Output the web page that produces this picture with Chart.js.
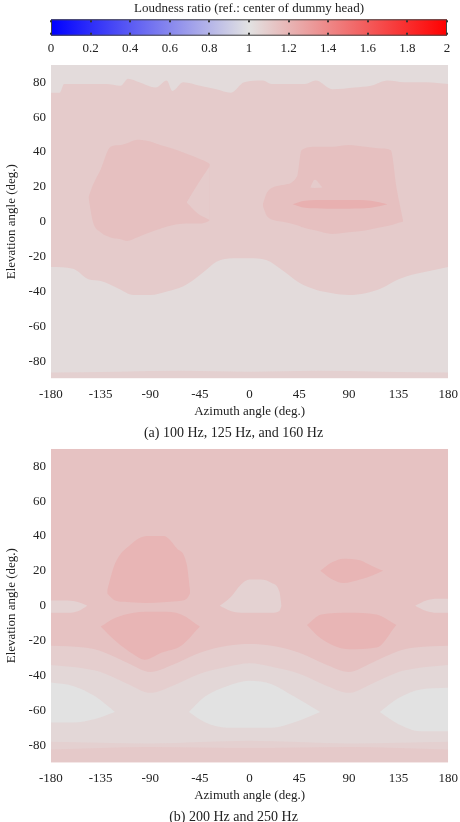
<!DOCTYPE html>
<html>
<head>
<meta charset="utf-8">
<script src="https://cdn.jsdelivr.net/npm/chart.js@4.4.0/dist/chart.umd.min.js"></script>
<style>
  html, body { margin: 0; padding: 0; background: #fff; }
  body { width: 460px; height: 822px; position: relative; overflow: hidden; }
  canvas { position: absolute; left: 0; }
  #barra { top: 0; }
  #graficoA { top: 52px; }
  #graficoB { top: 436px; }
</style>
</head>
<body>
<canvas id="barra" width="460" height="62"></canvas>
<canvas id="graficoA" width="467" height="388"></canvas>
<canvas id="graficoB" width="467" height="388"></canvas>
<script>
const colorbarTicks = [0, 0.2, 0.4, 0.6, 0.8, 1, 1.2, 1.4, 1.6, 1.8, 2];
const colormapStops = [0, 1, 2];
const colormapRgb = [[0, 0, 255], [226, 226, 226], [255, 0, 0]];
const azimuthTicks = [-180, -135, -90, -45, 0, 45, 90, 135, 180];
const elevationTicks = [-80, -60, -40, -20, 0, 20, 40, 60, 80];
const fullAz = [-180, 180];
const fullTop = [90, 90];

// (a) 100 Hz, 125 Hz, 160 Hz - contour levels (loudness ratio) and their boundaries
const aBackground = 1.03;
const aBandValue = 1.10;
const aBandTopAz = [-180, -172, -168, -150, -130, -117, -110, -100, -85, -75, -70, -60, -45, -30, -17, -5, 12, 20, 35, 50, 60, 75, 95, 110, 125, 140, 160, 180];
const aBandTopEl = [74, 74, 79, 79, 79, 78, 82, 80, 77, 81, 75, 80, 78, 76, 74, 80, 81, 79, 79, 79, 81, 76, 77, 78, 81, 80, 80, 79];
const aBandLowAz = [-180, -160, -146, -135, -120, -105, -90, -75, -60, -50, -40, -30, -15, 0, 15, 30, 45, 60, 75, 90, 105, 120, 135, 150, 165, 180];
const aBandLowEl = [-26, -27, -33, -34, -38, -42, -42, -40, -37, -33, -28, -23, -21, -21, -22, -28, -35, -39, -41, -42, -41, -38, -33, -30, -28, -26];
const aFloorValue = 1.08;
const aFloorAz = [-180, -120, -60, 0, 60, 120, 180];
const aFloorEl = [-86.5, -86, -85.5, -86, -85.5, -86, -86.5];
const aBlobValue = 1.15;
const aLeftAz = [-146, -142, -135, -126, -117, -111, -102, -90, -81, -70, -57, -45, -38, -36];
const aLeftTop = [14, 21, 30, 43, 44, 45, 47, 46, 44, 42, 39, 36, 34, 33];
const aLeftLow = [14, 0, -6, -9, -10, -11, -9, -6, -4, -2, -1, -1, 0, 1];
const aNotchAz = [-57, -47, -36];
const aNotchTop = [11, 21.5, 32];
const aNotchLow = [11, 4.7, 1];
const aRightAz = [12, 16, 30, 43, 47, 60, 75, 90, 105, 120, 128, 133, 139];
const aRightTop = [10, 17, 21, 26, 41, 43, 43, 44, 43, 42, 41, 20, 1];
const aRightLow = [9, 3, 0, -2, -3, -5, -7, -6, -5, -3, -2, -1, 0];
const aSpotAz = [55, 59, 66];
const aSpotTop = [19.6, 24, 19.6];
const aSpotLow = [19.6, 19.4, 19.6];
const aLineValue = 1.22;
const aLineAz = [39, 50, 70, 90, 110, 125];
const aLineTop = [10, 12, 12.5, 12.5, 12, 10];
const aLineLow = [10, 8, 7.5, 7.5, 8, 10];

// (b) 200 Hz, 250 Hz
const bBackground = 1.14;
const bBandAz = [-180, -150, -135, -110, -90, -70, -45, -20, 0, 20, 45, 70, 90, 110, 135, 150, 180];
const bBand1Value = 1.09;
const bBand1El = [-23, -24, -26, -33, -38, -34, -27, -23, -22, -23, -27, -34, -38, -33, -26, -24, -23];
const bBand2Value = 1.05;
const bBand2El = [-34, -36, -38, -45, -50, -46, -39, -35, -33, -35, -39, -46, -50, -45, -38, -36, -34];
const bLowAz = [-180, -90, 0, 90, 180];
const bBand3Value = 1.08;
const bBand3El = [-78, -79, -77.5, -79, -78];
const bFloorValue = 1.11;
const bFloorEl = [-82.5, -81, -81.5, -81, -82.5];
const bPaleValue = 1.0;
const bPaleLeftAz = [-180, -160, -140, -122];
const bPaleLeftTop = [-44, -46, -52, -61];
const bPaleLeftLow = [-67, -67, -65, -61];
const bPaleMidAz = [-55, -40, -20, 0, 20, 40, 64];
const bPaleMidTop = [-61, -52, -46, -43, -45, -52, -61];
const bPaleMidLow = [-61, -67, -70, -70, -70, -67, -61];
const bPaleRightAz = [118, 135, 155, 180];
const bPaleRightTop = [-61, -53, -48, -47];
const bPaleRightLow = [-61, -68, -72, -72];
const bLightValue = 1.07;
const bLightLeftAz = [-180, -165, -155, -147];
const bLightLeftTop = [3, 3, 2, 0];
const bLightLeftLow = [-4, -4, -3, 0];
const bLightMidAz = [-27, -17, -8, 0, 10, 20, 27, 29];
const bLightMidTop = [0, 5, 12, 15, 15, 13, 8, 0];
const bLightMidLow = [0, -3, -4, -4, -4, -4, -3, 0];
const bLightRightAz = [150, 160, 170, 180];
const bLightRightTop = [0, 3, 4, 4];
const bLightRightLow = [0, -3, -4, -4];
const bBlobValue = 1.20;
const bUpLeftAz = [-129, -122, -108, -93, -78, -66, -57, -54];
const bUpLeftTop = [9, 24, 35, 40, 40, 33, 24, 9];
const bUpLeftLow = [7, 3, 2, 1.5, 2, 2.5, 4, 7];
const bUpRightAz = [64, 75, 85, 100, 110, 121];
const bUpRightTop = [20, 25, 27, 26, 23, 20];
const bUpRightLow = [20, 15, 13, 15, 17, 20];
const bLowLeftAz = [-135, -122, -105, -95, -80, -62, -45];
const bLowLeftTop = [-12, -7, -4, -3.5, -3.5, -5, -12];
const bLowLeftLow = [-12, -20, -28, -31, -27, -23, -12];
const bLowRightAz = [52, 65, 90, 115, 133];
const bLowRightTop = [-11, -5, -4, -5, -11];
const bLowRightLow = [-11, -19, -25, -24, -11];

const serif = "'Liberation Serif', 'Times New Roman', serif";
const textColor = '#222';
Chart.defaults.font.family = serif;
Chart.defaults.font.size = 13;
Chart.defaults.color = textColor;

function colorFor(v) {
    let i = 0;
    while (i < colormapStops.length - 2 && v > colormapStops[i + 1]) i++;
    const t = Math.max(0, Math.min(1, (v - colormapStops[i]) / (colormapStops[i + 1] - colormapStops[i])));
    const c0 = colormapRgb[i], c1 = colormapRgb[i + 1];
    const rgb = c0.map((c, k) => Math.round(c + (c1[k] - c) * t));
    return 'rgb(' + rgb.join(',') + ')';
}

function pts(az, el) {
    return az.map((x, i) => ({ x: x, y: el[i] }));
}

// each layer: contour level + upper boundary, lower boundary (or down to the axis)
function buildDatasets(layers) {
    const ds = [];
    layers.forEach(function (layer, k) {
        const base = { borderWidth: 0, pointRadius: 0, cubicInterpolationMode: 'monotone', order: -k };
        if (layer.low) {
            const idx = ds.length;
            ds.push(Object.assign({}, base, { data: layer.top, fill: false }));
            ds.push(Object.assign({}, base, { data: layer.low, fill: idx, backgroundColor: colorFor(layer.value) }));
        } else {
            ds.push(Object.assign({}, base, { data: layer.top, fill: 'start', backgroundColor: colorFor(layer.value) }));
        }
    });
    return ds;
}

function panelOptions(caption) {
    return {
        responsive: false,
        animation: false,
        events: [],
        layout: { padding: 0 },
        plugins: {
            legend: { display: false },
            tooltip: { enabled: false },
            title: {
                display: true, position: 'bottom', text: caption, color: textColor,
                font: { family: serif, size: 14, weight: 'normal', lineHeight: 1 },
                padding: { top: 6.4, bottom: 0 }
            }
        },
        scales: {
            x: {
                type: 'linear', min: -180, max: 180,
                grid: { display: false, drawTicks: false, tickLength: 0 }, border: { display: false },
                afterBuildTicks: function (s) { s.ticks = azimuthTicks.map(v => ({ value: v })); },
                ticks: { autoSkip: false, maxRotation: 0, padding: 9, font: { size: 13, lineHeight: 1 }, callback: v => String(v) },
                title: { display: true, text: 'Azimuth angle (deg.)', font: { size: 13, lineHeight: 1 }, padding: { top: -5, bottom: 2 } }
            },
            y: {
                type: 'linear', min: -90, max: 90,
                grid: { display: false, drawTicks: false, tickLength: 0 }, border: { display: false },
                afterBuildTicks: function (s) { s.ticks = elevationTicks.map(v => ({ value: v })); },
                ticks: { autoSkip: false, padding: 5, callback: v => String(v) },
                title: { display: true, text: 'Elevation angle (deg.)', padding: { top: 4, bottom: 4 } }
            }
        }
    };
}

const layersA = [
    { value: aBackground, top: pts(fullAz, fullTop) },
    { value: aBandValue, top: pts(aBandTopAz, aBandTopEl), low: pts(aBandLowAz, aBandLowEl) },
    { value: aFloorValue, top: pts(aFloorAz, aFloorEl) },
    { value: aBlobValue, top: pts(aLeftAz, aLeftTop), low: pts(aLeftAz, aLeftLow) },
    { value: aBandValue, top: pts(aNotchAz, aNotchTop), low: pts(aNotchAz, aNotchLow) },
    { value: aBlobValue, top: pts(aRightAz, aRightTop), low: pts(aRightAz, aRightLow) },
    { value: aBandValue, top: pts(aSpotAz, aSpotTop), low: pts(aSpotAz, aSpotLow) },
    { value: aLineValue, top: pts(aLineAz, aLineTop), low: pts(aLineAz, aLineLow) }
];

const layersB = [
    { value: bBackground, top: pts(fullAz, fullTop) },
    { value: bBand1Value, top: pts(bBandAz, bBand1El) },
    { value: bBand2Value, top: pts(bBandAz, bBand2El) },
    { value: bBand3Value, top: pts(bLowAz, bBand3El) },
    { value: bFloorValue, top: pts(bLowAz, bFloorEl) },
    { value: bPaleValue, top: pts(bPaleLeftAz, bPaleLeftTop), low: pts(bPaleLeftAz, bPaleLeftLow) },
    { value: bPaleValue, top: pts(bPaleMidAz, bPaleMidTop), low: pts(bPaleMidAz, bPaleMidLow) },
    { value: bPaleValue, top: pts(bPaleRightAz, bPaleRightTop), low: pts(bPaleRightAz, bPaleRightLow) },
    { value: bLightValue, top: pts(bLightLeftAz, bLightLeftTop), low: pts(bLightLeftAz, bLightLeftLow) },
    { value: bLightValue, top: pts(bLightMidAz, bLightMidTop), low: pts(bLightMidAz, bLightMidLow) },
    { value: bLightValue, top: pts(bLightRightAz, bLightRightTop), low: pts(bLightRightAz, bLightRightLow) },
    { value: bBlobValue, top: pts(bUpLeftAz, bUpLeftTop), low: pts(bUpLeftAz, bUpLeftLow) },
    { value: bBlobValue, top: pts(bUpRightAz, bUpRightTop), low: pts(bUpRightAz, bUpRightLow) },
    { value: bBlobValue, top: pts(bLowLeftAz, bLowLeftTop), low: pts(bLowLeftAz, bLowLeftLow) },
    { value: bBlobValue, top: pts(bLowRightAz, bLowRightTop), low: pts(bLowRightAz, bLowRightLow) }
];

new Chart(document.getElementById('graficoA'), {
    type: 'line',
    data: { datasets: buildDatasets(layersA) },
    options: panelOptions('(a) 100 Hz, 125 Hz, and 160 Hz')
});

new Chart(document.getElementById('graficoB'), {
    type: 'line',
    data: { datasets: buildDatasets(layersB) },
    options: panelOptions('(b) 200 Hz and 250 Hz')
});

// colour bar: gradient through the x scale, border and inner tick marks
const colorbarPlugin = {
    id: 'colorbar',
    beforeDatasetsDraw: function (chart) {
        const ctx = chart.ctx;
        const area = chart.chartArea;
        const x = chart.scales.x;
        const x0 = x.getPixelForValue(colormapStops[0]);
        const x1 = x.getPixelForValue(colormapStops[colormapStops.length - 1]);
        const grad = ctx.createLinearGradient(x0, 0, x1, 0);
        colormapStops.forEach(function (s) {
            grad.addColorStop((x.getPixelForValue(s) - x0) / (x1 - x0), colorFor(s));
        });
        ctx.save();
        ctx.fillStyle = grad;
        ctx.fillRect(area.left, area.top, area.right - area.left, area.bottom - area.top);
        ctx.strokeStyle = '#444';
        ctx.lineWidth = 1;
        ctx.strokeRect(area.left + 0.5, area.top + 0.5, area.right - area.left - 1, area.bottom - area.top - 1);
        ctx.fillStyle = '#333';
        x.ticks.forEach(function (t) {
            const px = Math.round(x.getPixelForValue(t.value));
            ctx.fillRect(px - 1, area.top + 1, 2, 2);
            ctx.fillRect(px - 1, area.bottom - 3, 2, 2);
        });
        ctx.restore();
    }
};

new Chart(document.getElementById('barra'), {
    type: 'line',
    data: { datasets: [] },
    options: {
        responsive: false,
        animation: false,
        events: [],
        layout: { padding: { left: 51, right: 13, top: 0, bottom: 0.7 } },
        plugins: {
            legend: { display: false },
            tooltip: { enabled: false },
            title: {
                display: true, text: 'Loudness ratio (ref.: center of dummy head)', color: textColor,
                font: { family: serif, size: 13, weight: 'normal' },
                padding: { top: 1, bottom: 2.7 }
            }
        },
        scales: {
            x: {
                type: 'linear', min: 0, max: 2,
                grid: { display: false, drawTicks: false, tickLength: 0 }, border: { display: false },
                afterBuildTicks: function (s) { s.ticks = colorbarTicks.map(v => ({ value: v })); },
                ticks: { autoSkip: false, maxRotation: 0, padding: 5, callback: v => String(v) }
            },
            y: { display: false, min: 0, max: 1 }
        }
    },
    plugins: [colorbarPlugin]
});
</script>
</body>
</html>
